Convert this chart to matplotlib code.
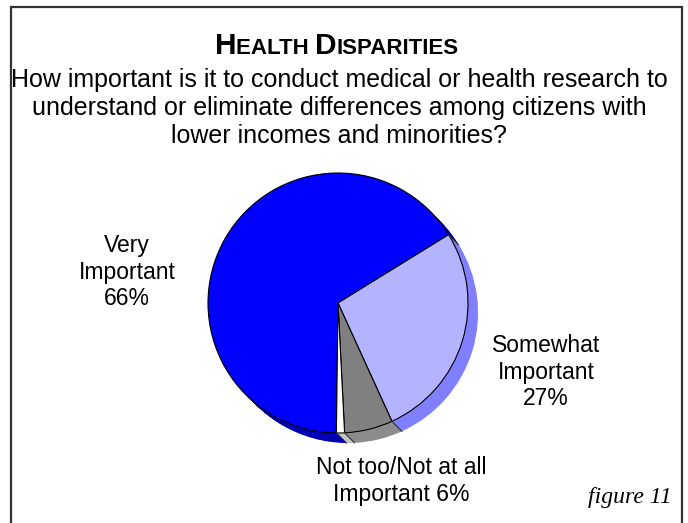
import numpy as np
import matplotlib
matplotlib.use("Agg")
import matplotlib.pyplot as plt
from matplotlib.patches import Rectangle

# survey answers, clockwise from the bottom of the pie
responses = ["Very Important", "Somewhat Important", "Not too/Not at all Important", "Don't know"]
shares = [66, 27, 6, 1]
label_texts = ["Very\nImportant\n66%", "Somewhat\nImportant\n27%",
               "Not too/Not at all\nImportant 6%", ""]

top_colors = ["#0000FF", "#B3B3FF", "#808080", "#FFFFFF"]
side_colors = ["#0000B4", "#8080FF", "#8C8C8C", "#C4C4C4"]

W, H = 688, 523
fig = plt.figure(figsize=(W / 100, H / 100), dpi=100)
ax = fig.add_axes([0, 0, 1, 1])
ax.set_xlim(0, W)
ax.set_ylim(0, H)
ax.axis("off")


def py(y):
    # pixel row -> data y
    return H - y


cx, cy, r = 338, py(303), 130
depth = 10
start = 269.3

# extruded side: stack of shifted pies toward the lower right
n_layers = 20
for i in range(n_layers, 0, -1):
    off = depth * i / n_layers
    ax.pie(shares, colors=side_colors, startangle=start, counterclock=False,
           center=(cx + off, cy - off), radius=r, frame=True,
           wedgeprops=dict(linewidth=0, antialiased=True))

# top face
wedges, _ = ax.pie(shares, colors=top_colors, startangle=start, counterclock=False,
                   center=(cx, cy), radius=r, frame=True,
                   wedgeprops=dict(edgecolor="black", linewidth=0.8))

# slice seams running down the side
for w in wedges:
    for ang in (w.theta1, w.theta2):
        a = np.deg2rad(ang)
        if -135 < ((ang + 180) % 360) - 180 < 45:
            x0, y0 = cx + r * np.cos(a), cy + r * np.sin(a)
            ax.plot([x0, x0 + depth], [y0, y0 - depth], color="#333333", lw=0.6)

ax.set_xlim(0, W)
ax.set_ylim(0, H)
ax.set_aspect("auto")

# frame
ax.add_patch(Rectangle((11, -5), 671, py(7) + 5, fill=False,
                       edgecolor="#333333", linewidth=1.6))

# title in small caps, centred over the pie
title_parts = [("H", 21.5), ("EALTH ", 16), ("D", 21.5), ("ISPARITIES", 16)]
renderer = fig.canvas.get_renderer()
pieces = []
for txt, size in title_parts:
    t = ax.text(0, py(54), txt, fontsize=size, fontweight="bold",
                family="Liberation Sans", ha="left", va="baseline")
    pieces.append(t)
widths = [p.get_window_extent(renderer=renderer).width for p in pieces]
x_cursor = 337 - sum(widths) / 2
for p, w in zip(pieces, widths):
    p.set_x(x_cursor)
    x_cursor += w

question = ("How important is it to conduct medical or health research to\n"
            "understand or eliminate differences among citizens with\n"
            "lower incomes and minorities?")
ax.text(339, py(108), question, fontsize=18, family="Liberation Sans",
        ha="center", va="center", linespacing=1.19)

label_pos = [(127, 272), (546, 372), (401, 481), None]
for txt, pos in zip(label_texts, label_pos):
    if pos is None:
        continue
    ax.text(pos[0], py(pos[1]), txt, fontsize=16.5, family="Liberation Sans",
            ha="center", va="center", linespacing=1.2)

ax.text(672, py(497), "figure 11", fontsize=17, family="Liberation Serif",
        style="italic", ha="right", va="center")

fig.savefig("out.png", dpi=100)
